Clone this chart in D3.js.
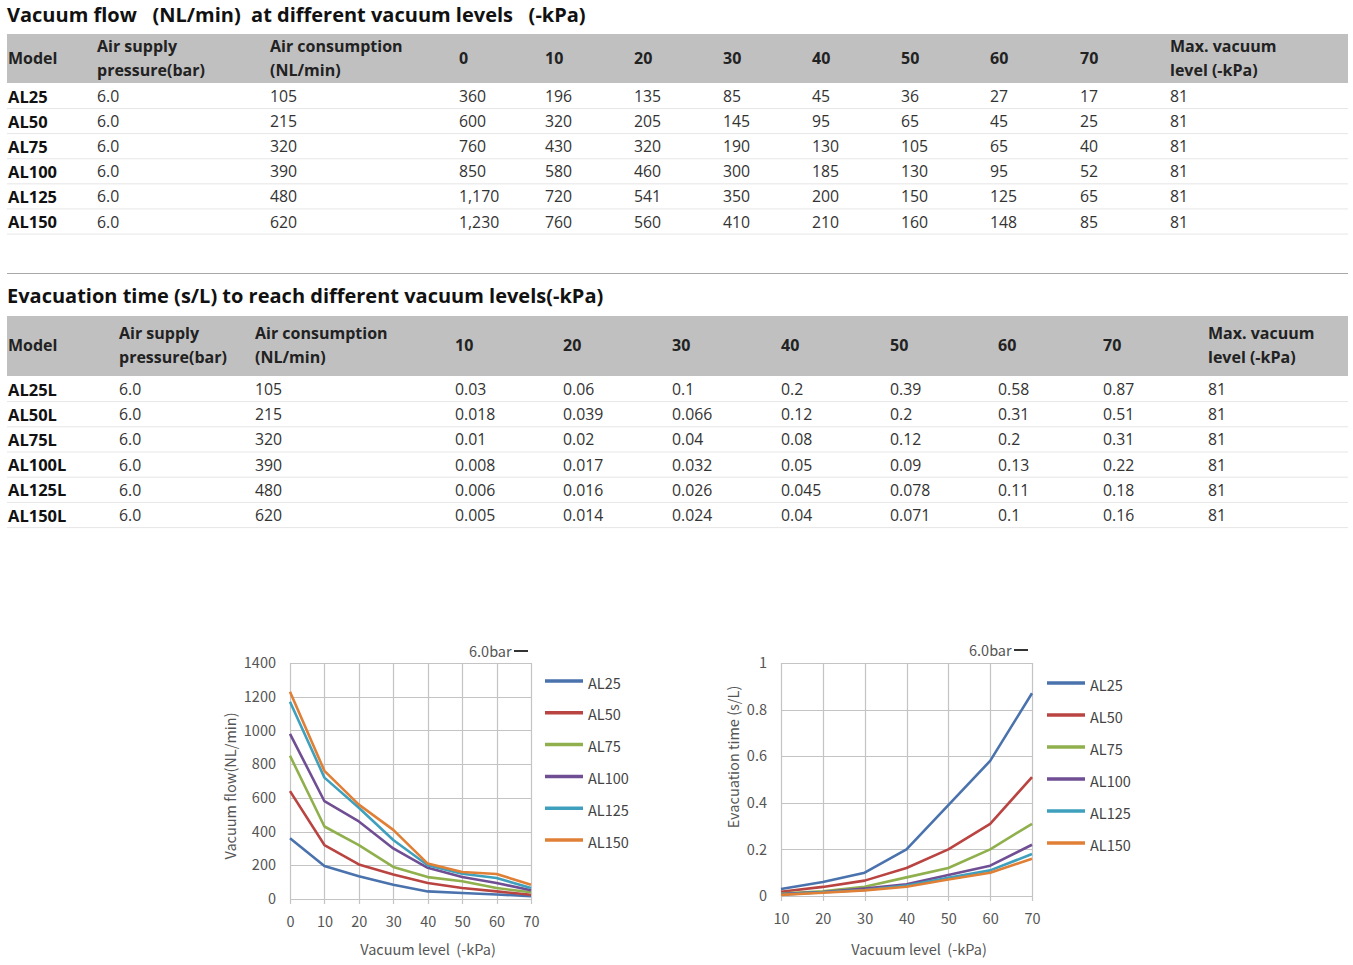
<!DOCTYPE html>
<html><head><meta charset="utf-8">
<script src="https://cdn.jsdelivr.net/npm/d3@7"></script>
<style>
html,body{margin:0;padding:0;background:#fff;}
svg{display:block;}
text{white-space:pre;}
</style></head>
<body>
<svg id="c" width="1353" height="965"></svg>
<script>
// ---------- DATA ----------
const models = ["AL25","AL50","AL75","AL100","AL125","AL150"];
const modelsL = ["AL25L","AL50L","AL75L","AL100L","AL125L","AL150L"];
const supply = ["6.0","6.0","6.0","6.0","6.0","6.0"];
const consumption = [105,215,320,390,480,620];
const flowLevels = [0,10,20,30,40,50,60,70];
const flowTable = [
  ["360","196","135","85","45","36","27","17"],
  ["600","320","205","145","95","65","45","25"],
  ["760","430","320","190","130","105","65","40"],
  ["850","580","460","300","185","130","95","52"],
  ["1,170","720","541","350","200","150","125","65"],
  ["1,230","760","560","410","210","160","148","85"]
];
const maxVacuum = [81,81,81,81,81,81];
const evacLevels = [10,20,30,40,50,60,70];
const evacTable = [
  ["0.03","0.06","0.1","0.2","0.39","0.58","0.87"],
  ["0.018","0.039","0.066","0.12","0.2","0.31","0.51"],
  ["0.01","0.02","0.04","0.08","0.12","0.2","0.31"],
  ["0.008","0.017","0.032","0.05","0.09","0.13","0.22"],
  ["0.006","0.016","0.026","0.045","0.078","0.11","0.18"],
  ["0.005","0.014","0.024","0.04","0.071","0.1","0.16"]
];
// values as plotted in the flow chart
const flowChart = [
  [360,196,135,85,45,36,27,17],
  [640,320,205,145,95,65,45,25],
  [850,430,320,190,130,105,65,40],
  [980,580,460,300,185,130,95,52],
  [1170,720,541,350,200,150,125,65],
  [1230,760,560,410,210,160,148,85]
];
const evacChart = [
  [0.03,0.06,0.1,0.2,0.39,0.58,0.87],
  [0.018,0.039,0.066,0.12,0.2,0.31,0.51],
  [0.01,0.02,0.04,0.08,0.12,0.2,0.31],
  [0.008,0.017,0.032,0.05,0.09,0.13,0.22],
  [0.006,0.016,0.026,0.045,0.078,0.11,0.18],
  [0.005,0.014,0.024,0.04,0.071,0.1,0.16]
];
const flowYTicks = [0,200,400,600,800,1000,1200,1400];
const evacYTicks = [0,0.2,0.4,0.6,0.8,1];
const colors = ["#4a72ad","#b94441","#8fb04d","#6f4e93","#3ea0bd","#e07f36"];

// ---------- TABLES ----------
const svg = d3.select("#c");
const TF = "'Open Sans', 'Noto Sans', sans-serif";

function drawTable(cfg){
  const g = svg.append("g");
  g.append("text").attr("x",7).attr("y",cfg.titleY).attr("font-family",TF)
    .attr("font-weight",700).attr("font-size",20).attr("fill","#111")
    .attr("dominant-baseline","central").text(cfg.title);
  g.append("rect").attr("x",7).attr("y",cfg.headTop).attr("width",1341)
    .attr("height",cfg.headH).attr("fill","#c0c0c0");
  const hc = cfg.headTop + cfg.headH/2;
  cfg.headers.forEach((h,i)=>{
    const lines = Array.isArray(h)?h:[h];
    lines.forEach((ln,j)=>{
      g.append("text").attr("x",cfg.colX[i]).attr("y",hc - 1 + (j-(lines.length-1)/2)*24)
        .attr("font-family",TF).attr("font-weight",700).attr("font-size",16)
        .attr("fill","#222").attr("dominant-baseline","central").text(ln);
    });
  });
  const rowY = d3.scaleLinear().domain([0,5]).range(cfg.rowRange);
  const step = rowY(1)-rowY(0);
  cfg.rows.forEach((r,ri)=>{
    const y = rowY(ri);
    g.append("line").attr("x1",7).attr("x2",1348).attr("y1",y+step/2).attr("y2",y+step/2)
      .attr("stroke","#e6e6e6").attr("stroke-width",1);
    r.forEach((cell,ci)=>{
      g.append("text").attr("x",cfg.colX[ci]).attr("y",y)
        .attr("font-family",TF).attr("font-weight",ci===0?700:400)
        .attr("font-size",ci===0?16.5:15.8)
        .attr("fill",ci===0?"#111":"#333").attr("dominant-baseline","central").text(cell);
    });
  });
}

drawTable({
  title:"Vacuum flow   (NL/min)  at different vacuum levels   (-kPa)",
  titleY:14, headTop:34, headH:49,
  headers:["Model",["Air supply","pressure(bar)"],["Air consumption","(NL/min)"]]
    .concat(flowLevels.map(String)).concat([["Max. vacuum","level (-kPa)"]]),
  colX:[8,97,270,459,545,634,723,812,901,990,1080,1170],
  rowRange:[96,221.5],
  rows:models.map((m,i)=>[m,supply[i],String(consumption[i])].concat(flowTable[i]).concat([String(maxVacuum[i])]))
});

svg.append("line").attr("x1",7).attr("x2",1348).attr("y1",273.5).attr("y2",273.5)
  .attr("stroke","#a8a8a8").attr("stroke-width",1);

drawTable({
  title:"Evacuation time (s/L) to reach different vacuum levels(-kPa)",
  titleY:295, headTop:316, headH:60,
  headers:["Model",["Air supply","pressure(bar)"],["Air consumption","(NL/min)"]]
    .concat(evacLevels.map(String)).concat([["Max. vacuum","level (-kPa)"]]),
  colX:[8,119,255,455,563,672,781,890,998,1103,1208],
  rowRange:[389,515],
  rows:modelsL.map((m,i)=>[m,supply[i],String(consumption[i])].concat(evacTable[i]).concat([String(maxVacuum[i])]))
});

// ---------- CHARTS ----------
const CF = "'Noto Sans CJK SC','Noto Sans',sans-serif";
function drawChart(cfg){
  const g = svg.append("g");
  const x = d3.scaleLinear().domain(cfg.xDomain).range(cfg.xRange);
  const y = d3.scaleLinear().domain(cfg.yDomain).range(cfg.yRange);
  // grid
  g.selectAll(".hg").data(cfg.yTicks).enter().append("line")
    .attr("x1",cfg.xRange[0]).attr("x2",cfg.xRange[1])
    .attr("y1",d=>Math.round(y(d))+0.5).attr("y2",d=>Math.round(y(d))+0.5)
    .attr("stroke","#c4c4c4").attr("stroke-width",1.2);
  g.selectAll(".vg").data(cfg.xs).enter().append("line")
    .attr("x1",d=>Math.round(x(d))+0.5).attr("x2",d=>Math.round(x(d))+0.5)
    .attr("y1",cfg.yRange[1]).attr("y2",cfg.yRange[0]+5)
    .attr("stroke","#c4c4c4").attr("stroke-width",1.2);
  // axes labels
  const yAxis = d3.axisLeft(y).tickValues(cfg.yTicks).tickSize(0).tickPadding(14)
    .tickFormat(cfg.yFmt);
  const ya = g.append("g").attr("transform",`translate(${cfg.xRange[0]},0)`).call(yAxis);
  ya.select(".domain").remove();
  ya.selectAll("text").attr("font-family",CF).attr("font-size",14.5).attr("fill","#555");
  const xAxis = d3.axisBottom(x).tickValues(cfg.xs).tickSize(0).tickPadding(18);
  const xa = g.append("g").attr("transform",`translate(0,${cfg.yRange[0]})`).call(xAxis);
  xa.select(".domain").remove();
  xa.selectAll("text").attr("font-family",CF).attr("font-size",14.5).attr("fill","#555");
  // lines
  const line = d3.line().x((d,i)=>x(cfg.xs[i])).y(d=>y(d));
  cfg.series.forEach((s,i)=>{
    g.append("path").attr("d",line(s)).attr("fill","none").attr("stroke",colors[i])
      .attr("stroke-width",2.6).attr("stroke-linejoin","round");
  });
  // titles
  g.append("text").attr("transform",`translate(${cfg.yTitleX},${cfg.yTitleY}) rotate(-90)`)
    .attr("text-anchor","middle").attr("dominant-baseline","central")
    .attr("font-family",CF).attr("font-size",14.5).attr("fill","#555").text(cfg.yTitle);
  g.append("text").attr("x",cfg.xTitleX).attr("y",948).attr("text-anchor","middle")
    .attr("dominant-baseline","central").attr("font-family",CF).attr("font-size",14.5)
    .attr("fill","#555").text("Vacuum level  (-kPa)");
  g.append("text").attr("x",cfg.barX).attr("y",cfg.barY).attr("dominant-baseline","central")
    .attr("font-family",CF).attr("font-size",14.5).attr("fill","#555").text("6.0bar");
  g.append("line").attr("x1",cfg.barX+45).attr("x2",cfg.barX+59).attr("y1",cfg.barY+1).attr("y2",cfg.barY+1)
    .attr("stroke","#333").attr("stroke-width",2);
  // legend
  const ly = d3.scaleLinear().domain([0,5]).range(cfg.legY);
  models.forEach((m,i)=>{
    g.append("line").attr("x1",cfg.legX).attr("x2",cfg.legX+38)
      .attr("y1",ly(i)).attr("y2",ly(i)).attr("stroke",colors[i]).attr("stroke-width",3.5);
    g.append("text").attr("x",cfg.legX+43).attr("y",ly(i)+1).attr("dominant-baseline","central")
      .attr("font-family",CF).attr("font-size",14.5).attr("fill","#444").text(m);
  });
}

drawChart({
  xDomain:[0,70], xRange:[290,531], yDomain:[0,1400], yRange:[899,663],
  xs:flowLevels, yTicks:flowYTicks, yFmt:d3.format("d"), series:flowChart,
  yTitle:"Vacuum flow(NL/min)", yTitleX:229, yTitleY:786, xTitleX:428,
  barX:469, barY:650, legX:545, legY:[681,840]
});
drawChart({
  xDomain:[10,70], xRange:[781,1032], yDomain:[0,1], yRange:[896,663],
  xs:evacLevels, yTicks:evacYTicks, yFmt:d=>String(d), series:evacChart,
  yTitle:"Evacuation time (s/L)", yTitleX:732, yTitleY:757, xTitleX:919,
  barX:969, barY:649, legX:1047, legY:[683,843]
});
</script>
</body></html>
